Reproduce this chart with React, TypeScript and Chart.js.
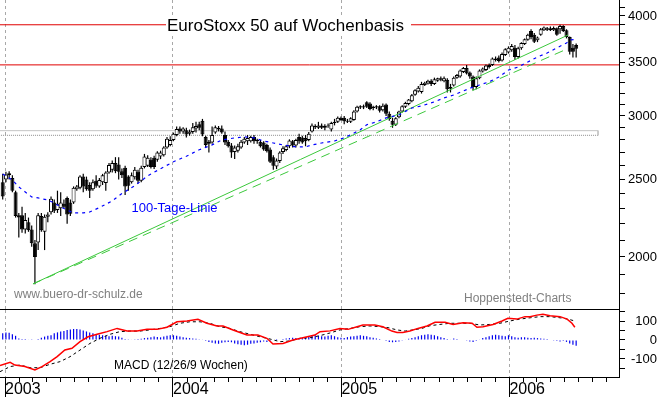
import React, { useEffect, useRef } from 'react';
import { Chart, registerables } from 'chart.js';

Chart.register(...registerables);

// ---------- time axis (week index 0 = week ending 2002-12-27) ----------
const FIRST_WEEK_UTC = Date.UTC(2002, 11, 27);
const weekOf = (y: number, m: number, d: number) => (Date.UTC(y, m, d) - FIRST_WEEK_UTC) / (7 * 864e5);
const X_MIN = -0.84;
const X_MAX = 191.3;
const tickYears = [2003, 2004, 2005, 2006];

// ---------- weekly candles (EuroStoxx 50) ----------
const opens = [
  2480, 2500, 2530, 2510, 2410, 2255, 2255, 2165, 2210, 2165, 2080, 2085, 2250, 2150, 2245, 2275, 2340, 2290, 2300, 2330,
  2370, 2340, 2340, 2430, 2440, 2520, 2500, 2460, 2430, 2490, 2450, 2480, 2475, 2550, 2570, 2620, 2610, 2560, 2585, 2520,
  2480, 2515, 2555, 2490, 2590, 2600, 2645, 2660, 2645, 2670, 2680, 2740, 2760, 2800, 2840, 2895, 2870, 2880, 2850, 2865,
  2895, 2930, 2960, 2825, 2770, 2780, 2860, 2900, 2895, 2840, 2785, 2755, 2705, 2715, 2740, 2780, 2790, 2790, 2825, 2790,
  2785, 2780, 2760, 2725, 2665, 2595, 2635, 2705, 2720, 2750, 2790, 2755, 2825, 2820, 2815, 2800, 2870, 2915, 2900, 2920,
  2900, 2915, 2885, 2940, 2950, 2985, 2985, 2960, 2950, 2965, 3040, 3075, 3085, 3120, 3110, 3070, 3075, 3085, 3050, 3100,
  3020, 2960, 2925, 2990, 3040, 3080, 3105, 3130, 3190, 3220, 3215, 3280, 3295, 3320, 3290, 3320, 3345, 3315, 3330, 3260,
  3275, 3350, 3360, 3405, 3445, 3400, 3360, 3260, 3345, 3410, 3425, 3455, 3475, 3540, 3550, 3520, 3575, 3600, 3625, 3650,
  3555, 3645, 3690, 3735, 3830, 3790, 3730, 3790, 3840, 3860, 3860, 3840, 3860, 3850, 3885, 3840, 3765, 3650, 3680,
];
const highs = [
  2540, 2555, 2560, 2530, 2420, 2270, 2310, 2270, 2240, 2190, 2100, 2270, 2270, 2260, 2275, 2380, 2360, 2420, 2410, 2360,
  2380, 2360, 2450, 2460, 2530, 2540, 2520, 2480, 2500, 2530, 2510, 2540, 2560, 2620, 2640, 2665, 2665, 2580, 2600, 2530,
  2550, 2590, 2570, 2600, 2690, 2680, 2665, 2675, 2710, 2715, 2750, 2825, 2830, 2860, 2910, 2910, 2905, 2900, 2885, 2940,
  2950, 2950, 2975, 2835, 2800, 2910, 2920, 2915, 2920, 2870, 2800, 2775, 2755, 2770, 2800, 2825, 2840, 2835, 2840, 2810,
  2800, 2790, 2770, 2740, 2680, 2655, 2710, 2750, 2760, 2805, 2800, 2810, 2850, 2835, 2840, 2865, 2935, 2930, 2950, 2935,
  2930, 2935, 2950, 2975, 2995, 2995, 3000, 2975, 2990, 3050, 3090, 3095, 3100, 3130, 3120, 3090, 3095, 3095, 3110, 3110,
  3040, 2985, 2990, 3045, 3095, 3125, 3150, 3195, 3240, 3270, 3310, 3310, 3330, 3335, 3350, 3350, 3360, 3360, 3345, 3290,
  3360, 3385, 3430, 3455, 3475, 3410, 3370, 3360, 3430, 3450, 3480, 3490, 3550, 3560, 3570, 3600, 3645, 3665, 3690, 3680,
  3660, 3710, 3750, 3800, 3850, 3810, 3770, 3865, 3880, 3875, 3880, 3880, 3870, 3900, 3895, 3850, 3770, 3690, 3695,
];
const lows = [
  2360, 2480, 2500, 2410, 2240, 2115, 2145, 2140, 2150, 2060, 1849, 2040, 2150, 2040, 2210, 2260, 2270, 2270, 2250, 2300,
  2200, 2250, 2330, 2420, 2430, 2410, 2420, 2370, 2420, 2440, 2440, 2460, 2420, 2540, 2550, 2545, 2500, 2510, 2390, 2420,
  2470, 2500, 2470, 2480, 2580, 2590, 2580, 2575, 2630, 2650, 2670, 2730, 2750, 2790, 2830, 2850, 2850, 2820, 2835, 2850,
  2860, 2880, 2830, 2740, 2700, 2770, 2850, 2870, 2850, 2760, 2740, 2660, 2650, 2700, 2730, 2770, 2760, 2780, 2770, 2770,
  2740, 2715, 2700, 2620, 2570, 2575, 2620, 2690, 2710, 2735, 2740, 2740, 2770, 2770, 2750, 2790, 2860, 2890, 2890, 2890,
  2880, 2900, 2870, 2920, 2940, 2960, 2930, 2940, 2940, 2960, 3030, 3060, 3060, 3070, 3050, 3050, 3060, 3030, 3040, 3000,
  2960, 2900, 2915, 2980, 3030, 3070, 3095, 3120, 3180, 3210, 3200, 3270, 3285, 3270, 3280, 3310, 3315, 3305, 3210, 3210,
  3265, 3340, 3350, 3395, 3380, 3340, 3230, 3240, 3335, 3400, 3415, 3440, 3465, 3510, 3500, 3510, 3565, 3590, 3610, 3525,
  3540, 3630, 3680, 3725, 3740, 3700, 3710, 3780, 3830, 3830, 3830, 3830, 3780, 3800, 3820, 3750, 3580, 3550, 3550,
];
const closes = [
  2380, 2535, 2545, 2420, 2250, 2240, 2165, 2225, 2160, 2080, 2000, 2255, 2160, 2245, 2260, 2365, 2285, 2330, 2340, 2310,
  2260, 2265, 2440, 2450, 2520, 2450, 2430, 2420, 2480, 2455, 2495, 2530, 2550, 2605, 2620, 2560, 2555, 2530, 2450, 2455,
  2530, 2570, 2490, 2585, 2670, 2660, 2590, 2590, 2700, 2700, 2740, 2810, 2800, 2850, 2890, 2870, 2895, 2845, 2870, 2905,
  2915, 2900, 2845, 2760, 2785, 2840, 2905, 2885, 2860, 2780, 2750, 2700, 2740, 2750, 2785, 2810, 2815, 2825, 2790, 2800,
  2750, 2725, 2710, 2630, 2600, 2640, 2700, 2735, 2750, 2795, 2755, 2800, 2790, 2780, 2790, 2850, 2920, 2905, 2920, 2900,
  2915, 2920, 2940, 2950, 2985, 2965, 2955, 2950, 2980, 3040, 3080, 3085, 3075, 3080, 3060, 3080, 3085, 3045, 3090, 3020,
  2975, 2925, 2980, 3040, 3085, 3115, 3145, 3185, 3230, 3255, 3290, 3300, 3320, 3290, 3335, 3345, 3330, 3345, 3240, 3245,
  3350, 3375, 3420, 3445, 3390, 3360, 3260, 3345, 3420, 3440, 3470, 3475, 3540, 3525, 3515, 3585, 3635, 3650, 3670, 3555,
  3645, 3700, 3740, 3790, 3765, 3715, 3760, 3850, 3870, 3845, 3840, 3865, 3790, 3885, 3830, 3765, 3610, 3610, 3640,
];

// ---------- 100-day moving average ----------
const maWeeks = [
  0, 3, 5, 7, 9, 11, 14, 16, 18, 20, 22, 25, 27, 30, 34, 37, 41, 45, 49, 53, 57, 61, 65, 68, 72, 75, 78, 81, 84, 87, 91,
  94, 96, 99, 103, 106, 108, 111, 113, 116, 119, 123, 127, 130, 134, 137, 140, 143, 146, 148, 151, 154, 157, 160, 163,
  166, 169, 172, 175, 176, 178,
];
const maValues = [
  2539, 2496, 2446, 2411, 2377, 2370, 2356, 2336, 2309, 2289, 2270, 2270, 2276, 2305, 2350, 2400, 2455, 2525, 2578, 2630,
  2672, 2722, 2761, 2800, 2817, 2825, 2817, 2792, 2776, 2760, 2745, 2745, 2760, 2776, 2792, 2817, 2842, 2883, 2925, 2950,
  2984, 3009, 3070, 3088, 3124, 3160, 3187, 3224, 3261, 3280, 3309, 3356, 3424, 3454, 3504, 3555, 3596, 3649, 3701, 3733,
  3740,
];

// ---------- trend lines, resistance lines, band ----------
const trendWeeks = [9.4, 175.5];
const trendUpperValues = [1851, 3787];
const trendLowerWeeks = [9.4, 175.2];
const trendLowerValues = [1851, 3638];
const resistanceLevels = [3900, 3475];
const bandLevels = [2876, 2838];
const bandEndWeek = 184.8;

// ---------- MACD panel ----------
const macdWeeks = [
  -0.84, 2.3, 3.8, 6.9, 10.0, 12.2, 14.7, 16.9, 19.3, 21.5, 24.0, 26.5, 29.3, 32.4, 35.5, 38.6, 41.7, 44.8, 47.9, 51.0,
  54.1, 57.2, 60.6, 63.4, 66.5, 68.4, 71.5, 75.8, 79.2, 82.0, 83.9, 87.0, 90.1, 93.2, 96.9, 98.5, 101.6, 104.7, 107.2,
  110.0, 111.8, 115.5, 118.0, 120.8, 122.4, 124.2, 126.4, 128.9, 131.7, 134.2, 137.3, 139.8, 142.9, 145.7, 147.2, 149.1,
  152.2, 155.0, 156.8, 159.6, 162.1, 163.7, 165.8, 167.7, 169.9, 173.0, 175.2, 176.7, 177.6,
];
const macdValues = [
  -135, -118, -132, -140, -158, -140, -114, -88, -53, -44, -9, 17, 30, 44, 61, 47, 47, 56, 56, 67, 96, 100, 109, 88, 74,
  74, 53, 26, 26, 9, -21, -18, 0, 12, 26, 44, 48, 61, 56, 70, 79, 79, 70, 47, 40, 40, 47, 61, 74, 93, 93, 82, 91, 88, 67,
  70, 82, 100, 114, 110, 123, 123, 131, 135, 128, 123, 110, 88, 67,
];
const signalWeeks = [
  -0.84, 2.3, 5.4, 8.5, 11.6, 14.7, 17.8, 20.9, 24.0, 27.1, 30.2, 33.3, 36.4, 39.5, 42.6, 45.7, 48.8, 51.9, 55.0, 58.1,
  61.2, 64.3, 67.4, 70.5, 73.6, 76.8, 79.9, 83.0, 86.1, 89.2, 92.3, 95.4, 98.5, 101.6, 104.7, 107.8, 110.9, 114.0, 117.1,
  119.6, 122.4, 124.9, 127.3, 130.1, 132.6, 135.7, 138.8, 141.9, 145.0, 148.1, 151.2, 154.3, 157.4, 160.5, 163.7, 166.8,
  169.9, 173.0, 175.5, 177.6,
];
const signalValues = [
  -167, -140, -132, -146, -146, -128, -114, -88, -53, -18, 9, 30, 44, 47, 47, 53, 61, 70, 88, 96, 96, 88, 70, 61, 44, 30,
  17, 5, -9, -5, 9, 12, 23, 37, 53, 61, 70, 74, 70, 65, 53, 47, 53, 61, 75, 82, 88, 88, 88, 79, 82, 88, 100, 110, 117,
  123, 123, 117, 110, 100,
];
const histValues = [
  35, 40, 38, 30, 22, 8, 5, 5, 3, 4, 3, 5, 12, 18, 22, 25, 35, 40, 45, 48, 52, 55, 58, 58, 55, 50, 45, 40, 35, 30, 28, 25,
  22, 20, 22, 20, 18, 12, 5, 4, 3, 4, 5, 6, 10, 12, 15, 18, 16, 14, 18, 22, 25, 25, 22, 18, 14, 12, 10, 8, 6, 4, 2, -5,
  -10, -15, -18, -20, -15, -12, -10, -12, -18, -22, -25, -28, -25, -20, -18, -15, -12, -8, -10, -6, 3, 5, 2, 5, 8, 10, 12,
  10, 8, 12, 15, 18, 22, 25, 22, 20, 18, 22, 25, 20, 15, 12, 10, 15, 18, 20, 22, 25, 22, 20, 15, 12, 8, 5, 3, -5, -10,
  -12, -10, -8, -4, 3, 6, 10, 15, 20, 25, 28, 30, 28, 25, 20, 15, 10, 5, 3, 8, 5, 3, 2, -4, -8, -10, -5, 2, 10, 15, 20, 25,
  28, 25, 22, 20, 25, 20, 15, 12, 14, 15, 12, 10, 12, 10, 8, 6, 5, 3, -2, -5, -8, -5, -10, -18, -25, -30,
];

// ---------- axis ticks ----------
const priceTicks = [1800, 1900, 2000, 2100, 2200, 2300, 2400, 2500, 2600, 2700, 2800, 2900, 3000, 3100, 3200, 3300, 3400, 3500, 3600, 3700, 3800, 3900, 4000, 4100];
const priceLabels = [2000, 2500, 3000, 3500, 4000];
const macdTicks = [-150, -100, -50, 0, 50, 100, 150];
const macdLabels = [-100, 0, 100];

const monthTicks: { w: number; label: string }[] = [];
for (const y of tickYears) {
  for (let m = 0; m < 12; m++) {
    const w = weekOf(y, m, 1);
    if (w >= X_MIN && w <= X_MAX) monthTicks.push({ w, label: m === 0 ? String(y) : '' });
  }
}
const yearTicks = monthTicks.filter((t) => t.label !== '');

const FONT = "'Liberation Sans', Arial, Helvetica, sans-serif";
const NARROW = "'Liberation Sans Narrow', 'Liberation Sans', Arial, sans-serif";
const GRID_GRAY = '#a8a8a8';

const yearTickPlugin = {
  id: 'yearTicks',
  afterDraw(chart: any) {
    const xs = chart.scales.x;
    const ctx = chart.ctx;
    ctx.save();
    ctx.strokeStyle = '#000';
    ctx.lineWidth = 1;
    for (const t of yearTicks) {
      const px = Math.round(xs.getPixelForValue(t.w) - 0.5) + 0.5;
      ctx.beginPath();
      ctx.moveTo(px, chart.chartArea.bottom);
      ctx.lineTo(px, chart.height);
      ctx.stroke();
    }
    ctx.restore();
  },
};

export default function App() {
  const mainRef = useRef<HTMLCanvasElement>(null);
  const macdRef = useRef<HTMLCanvasElement>(null);

  useEffect(() => {
    document.body.style.margin = '0';
    Chart.defaults.font.family = FONT;

    const idx = opens.map((_, i) => i);
    const wickData = idx.map((i) => ({ x: i, y: [lows[i], highs[i]] }));
    const bodyData = idx.map((i) => ({ x: i, y: [opens[i], closes[i]] }));
    const bodyColors = idx.map((i) => (closes[i] >= opens[i] ? '#ffffff' : '#000000'));

    const lineBase = { type: 'line', pointRadius: 0, tension: 0, fill: false };

    const main = new Chart(mainRef.current!, {
      type: 'bar',
      data: {
        datasets: [
          {
            ...lineBase,
            label: '100-Tage-Linie',
            data: maWeeks.map((w, k) => ({ x: w, y: maValues[k] })),
            borderColor: '#0000ff',
            borderWidth: 1.2,
            borderDash: [3, 4],
            order: 0,
          },
          {
            ...lineBase,
            label: 'Trend oben',
            data: trendWeeks.map((w, k) => ({ x: w, y: trendUpperValues[k] })),
            borderColor: '#3cc83c',
            borderWidth: 1,
            order: 1,
          },
          {
            ...lineBase,
            label: 'Trend unten',
            data: trendLowerWeeks.map((w, k) => ({ x: w, y: trendLowerValues[k] })),
            borderColor: '#3cc83c',
            borderWidth: 1,
            borderDash: [9, 6],
            order: 1,
          },
          {
            type: 'bar',
            label: 'Körper',
            data: bodyData,
            backgroundColor: bodyColors,
            borderColor: '#000',
            borderWidth: 1,
            borderSkipped: false,
            barThickness: 4,
            grouped: false,
            inflateAmount: 0,
            order: 2,
          },
          {
            type: 'bar',
            label: 'Docht',
            data: wickData,
            backgroundColor: '#000',
            borderWidth: 0,
            barThickness: 1.2,
            grouped: false,
            inflateAmount: 0,
            order: 3,
          },
          ...resistanceLevels.map((lv) => ({
            ...lineBase,
            label: 'Linie ' + lv,
            data: [
              { x: X_MIN - 1, y: lv },
              { x: X_MAX + 1, y: lv },
            ],
            borderColor: '#e00000',
            borderWidth: 1,
            order: 5,
          })),
          {
            ...lineBase,
            label: 'Band oben',
            data: [
              { x: X_MIN - 1, y: bandLevels[0] },
              { x: bandEndWeek, y: bandLevels[0] },
              { x: bandEndWeek, y: bandLevels[1] },
            ],
            borderColor: '#c4c4c4',
            borderWidth: 1,
            order: 6,
          },
          {
            ...lineBase,
            label: 'Band unten',
            data: [
              { x: bandEndWeek, y: bandLevels[1] },
              { x: X_MIN - 1, y: bandLevels[1] },
            ],
            borderColor: '#8c8c8c',
            borderWidth: 1,
            borderDash: [1, 1],
            order: 6,
          },
        ] as any,
      },
      options: {
        responsive: false,
        animation: false,
        devicePixelRatio: 1,
        events: [],
        layout: { padding: { left: 0, right: 3, top: 0, bottom: 1 } },
        plugins: { legend: { display: false }, tooltip: { enabled: false } },
        scales: {
          x: {
            type: 'linear',
            min: X_MIN,
            max: X_MAX,
            offset: false,
            bounds: 'data',
            afterBuildTicks: (s: any) => {
              s.ticks = yearTicks.map((t) => ({ value: t.w }));
            },
            ticks: { display: false },
            grid: { display: true, drawOnChartArea: true, drawTicks: false, color: GRID_GRAY, lineWidth: 1, offset: false },
            border: { display: true, color: '#000', width: 1, dash: [3, 3] },
            afterFit: (s: any) => {
              s.height = 0;
              s.paddingLeft = 0;
              s.paddingRight = 0;
            },
          },
          y: {
            type: 'logarithmic',
            position: 'right',
            min: 1722,
            max: 4188,
            bounds: 'data',
            afterBuildTicks: (s: any) => {
              s.ticks = priceTicks.map((v) => ({ value: v }));
            },
            ticks: {
              autoSkip: false,
              callback: (v: any) => (priceLabels.includes(Number(v)) ? String(v) : ''),
              font: { size: 13, family: FONT },
              color: '#000',
              padding: 3,
              crossAlign: 'far',
            },
            grid: { drawOnChartArea: false, drawTicks: true, tickLength: 6, tickColor: '#000' },
            border: { display: true, color: '#000', width: 1 },
            afterFit: (s: any) => {
              s.width = 38;
              s.paddingTop = 0;
              s.paddingBottom = 0;
            },
          },
        },
      } as any,
    });

    const macd = new Chart(macdRef.current!, {
      type: 'bar',
      data: {
        datasets: [
          {
            ...lineBase,
            label: 'MACD',
            data: macdWeeks.map((w, k) => ({ x: w, y: macdValues[k] })),
            borderColor: '#ff0000',
            borderWidth: 1.5,
            order: 0,
          },
          {
            ...lineBase,
            label: 'Signal',
            data: signalWeeks.map((w, k) => ({ x: w, y: signalValues[k] })),
            borderColor: '#000',
            borderWidth: 1,
            borderDash: [3, 3],
            order: 1,
          },
          {
            type: 'bar',
            label: 'Histogramm',
            data: histValues.map((v, i) => ({ x: i, y: v })),
            backgroundColor: '#0000ee',
            borderWidth: 0,
            barThickness: 1.2,
            grouped: false,
            inflateAmount: 0,
            order: 2,
          },
        ] as any,
      },
      options: {
        responsive: false,
        animation: false,
        devicePixelRatio: 1,
        events: [],
        layout: { padding: { left: 0, right: 3, top: 0, bottom: 0 } },
        plugins: { legend: { display: false }, tooltip: { enabled: false } },
        scales: {
          x: {
            type: 'linear',
            min: X_MIN,
            max: X_MAX,
            offset: false,
            bounds: 'data',
            afterBuildTicks: (s: any) => {
              s.ticks = monthTicks.map((t) => ({ value: t.w }));
            },
            ticks: {
              autoSkip: false,
              maxRotation: 0,
              minRotation: 0,
              align: 'start',
              padding: 0,
              color: '#000',
              font: { size: 16, family: NARROW, lineHeight: 1 },
              callback: (_v: any, i: number) => (monthTicks[i] ? monthTicks[i].label : ''),
            },
            grid: {
              display: true,
              drawOnChartArea: true,
              drawTicks: true,
              tickLength: 5,
              tickColor: '#000',
              tickWidth: 1,
              offset: false,
              color: (c: any) => (monthTicks[c.index] && monthTicks[c.index].label ? GRID_GRAY : 'rgba(0,0,0,0)'),
            },
            border: { display: true, color: '#000', width: 1, dash: [3, 3] },
            afterFit: (s: any) => {
              s.height = 20;
              s.paddingLeft = 0;
              s.paddingRight = 0;
            },
          },
          y: {
            type: 'linear',
            position: 'right',
            min: -195,
            max: 158,
            bounds: 'data',
            afterBuildTicks: (s: any) => {
              s.ticks = macdTicks.map((v) => ({ value: v }));
            },
            ticks: {
              autoSkip: false,
              callback: (v: any) => (macdLabels.includes(Number(v)) ? String(v) : ''),
              font: { size: 13, family: FONT },
              color: '#000',
              padding: 3,
              crossAlign: 'far',
            },
            grid: { drawOnChartArea: false, drawTicks: true, tickLength: 6, tickColor: '#000' },
            border: { display: true, color: '#000', width: 1 },
            afterFit: (s: any) => {
              s.width = 38;
              s.paddingTop = 0;
              s.paddingBottom = 0;
            },
          },
        },
      } as any,
      plugins: [yearTickPlugin],
    });

    return () => {
      main.destroy();
      macd.destroy();
    };
  }, []);

  const txt = (extra: React.CSSProperties): React.CSSProperties => ({
    position: 'absolute',
    fontFamily: FONT,
    whiteSpace: 'nowrap',
    margin: 0,
    padding: 0,
    ...extra,
  });

  return (
    <div style={{ position: 'relative', width: 660, height: 397, background: '#fff', overflow: 'hidden' }}>
      <canvas ref={mainRef} width={660} height={310} style={{ position: 'absolute', left: 0, top: 0, display: 'block' }} />
      <canvas ref={macdRef} width={660} height={87} style={{ position: 'absolute', left: 0, top: 310, display: 'block' }} />
      <div style={{ position: 'absolute', left: 166, top: 17, width: 245, height: 16, background: '#fff' }} />
      <div style={txt({ left: 167, top: 17.3, fontSize: 17, lineHeight: '17px', color: '#000' })}>EuroStoxx 50 auf Wochenbasis</div>
      <div style={txt({ left: 131.5, top: 201.3, fontSize: 13, lineHeight: '13px', color: '#0000ff' })}>100-Tage-Linie</div>
      <div style={txt({ left: 14, top: 288.1, fontSize: 12, lineHeight: '12px', color: '#808080' })}>www.buero-dr-schulz.de</div>
      <div style={txt({ left: 464, top: 291.8, fontSize: 12, lineHeight: '12px', color: '#808080' })}>Hoppenstedt-Charts</div>
      <div style={txt({ left: 114, top: 358.8, fontSize: 12, lineHeight: '12px', color: '#000' })}>MACD (12/26/9 Wochen)</div>
    </div>
  );
}
